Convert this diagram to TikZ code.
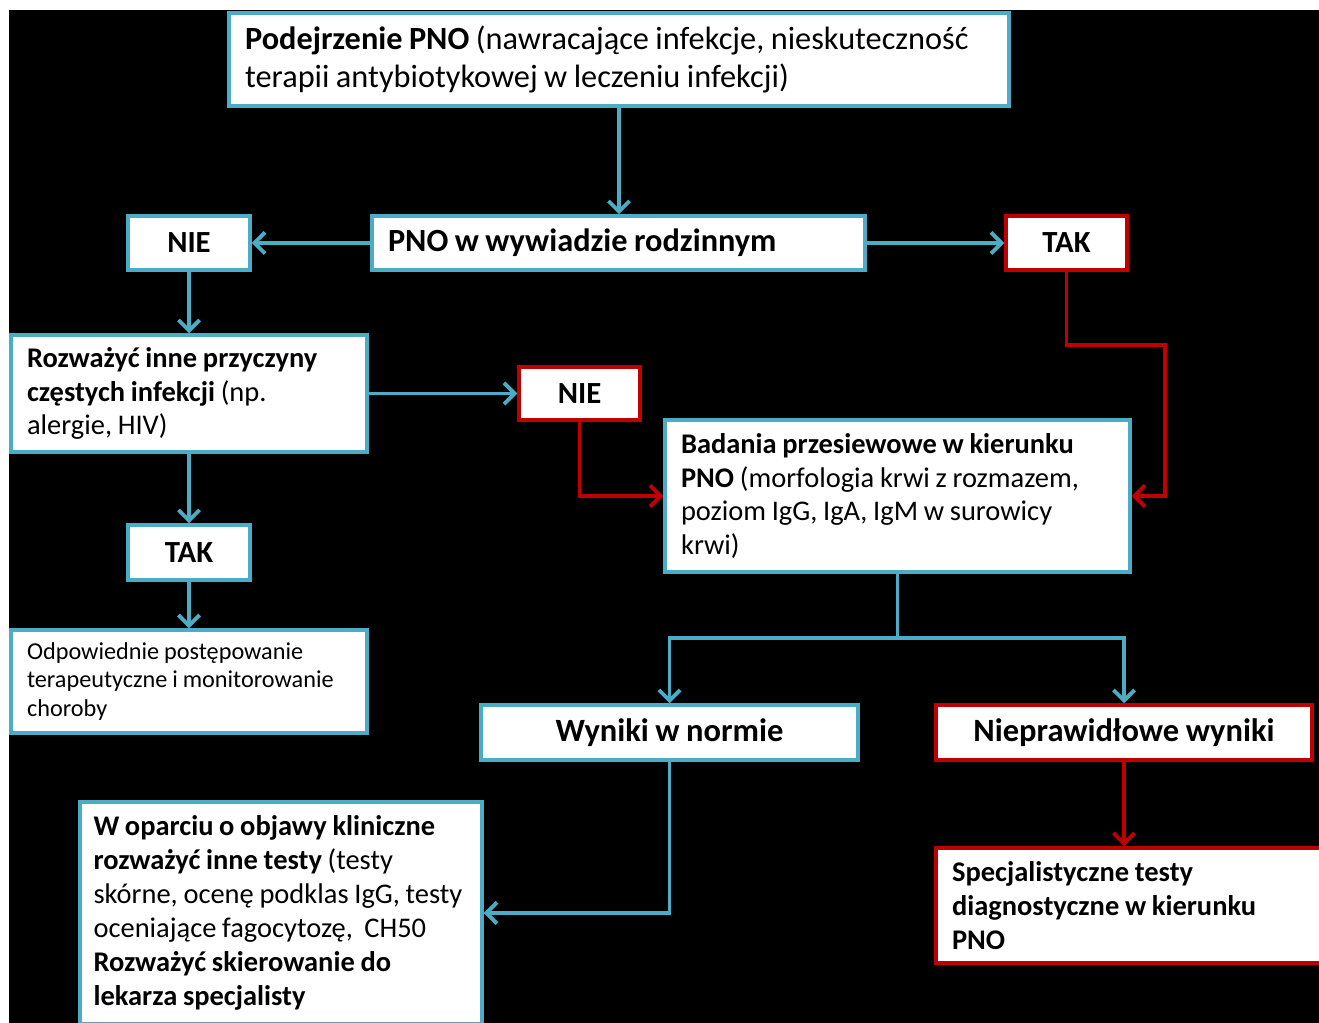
\documentclass[tikz,border=0pt]{standalone}
\usepackage{fontspec}
\setmainfont{Carlito}
\usepackage{tikz}
\usetikzlibrary{positioning,arrows.meta}

\definecolor{pnoblue}{HTML}{4BACC6}
\definecolor{pnored}{HTML}{C00000}

% font size with the tight word spacing of the slide
\newcommand{\pnosize}[2]{\fontsize{#1}{#2}\selectfont}
\newcommand{\pnospace}{\spaceskip=0.2em plus 0.08em minus 0.02em\relax}

\tikzset{
  box/.style = {draw=pnoblue, line width=2pt, fill=white, text=black, inner xsep=0.32cm, inner ysep=0pt, execute at begin node=\pnospace},
  redbox/.style = {box, draw=pnored},
  txt/.style = {align=left, font=\pnosize{16.2}{19.3}},
  lbl/.style = {align=center, font=\pnosize{17.5}{20}\bfseries},
  flow/.style = {draw=pnoblue, line width=2.2pt, -{Straight Barb[length=6pt,width=12pt,line width=2.2pt]}},
  redflow/.style = {flow, draw=pnored}
}

\begin{document}
\begin{tikzpicture}[x=0.02cm, y=-0.02cm]
            % Background
            \fill[white] (0,0) rectangle (1319,1023);
            \useasboundingbox (0,0) rectangle (1319,1023);
            \fill[black] (9,10) rectangle (1319,1023);
            % Nodes
            \node[box, txt, text width=14.96cm, minimum height=1.86cm, font=\pnosize{18.4}{21.5}] (suspect) at (619,59.5)
              {\textbf{Podejrzenie PNO} (nawracające infekcje, nieskuteczność\\ terapii antybiotykowej w leczeniu infekcji)};
            \node[box, txt, text width=9.22cm, minimum height=1.08cm, font=\pnosize{18.4}{20}\bfseries] (family) at (618.5,243)
              {PNO w wywiadzie rodzinnym};
            \node[box, lbl, minimum width=2.44cm, minimum height=1.08cm] (nie1) at (189,243) {NIE};
            \node[redbox, lbl, minimum width=2.42cm, minimum height=1.08cm] (tak1) at (1066.5,243) {TAK};
            \node[box, txt, text width=6.48cm, minimum height=2.34cm] (causes) at (189,393.5)
              {\textbf{Rozważyć inne przyczyny}\\ \textbf{częstych infekcji} (np.\\ alergie, HIV)};
            \node[redbox, lbl, minimum width=2.42cm, minimum height=1.06cm] (nie2) at (579.5,393.5) {NIE};
            \node[box, txt, text width=8.66cm, minimum height=3.04cm] (screening) at (897.5,496)
              {\textbf{Badania przesiewowe w kierunku}\\ \textbf{PNO} (morfologia krwi z rozmazem,\\ poziom IgG, IgA, IgM w surowicy\\ krwi)};
            \node[box, lbl, minimum width=2.44cm, minimum height=1.1cm] (tak2) at (189,552.5) {TAK};
            \node[box, txt, text width=6.48cm, minimum height=2.06cm, font=\pnosize{13.8}{16.4}] (therapy) at (189,681.5)
              {Odpowiednie postępowanie\\ terapeutyczne i monitorowanie\\ choroby};
            \node[box, lbl, minimum width=7.54cm, minimum height=1.1cm, font=\pnosize{18.5}{21}\bfseries] (normal) at (669.5,732.5) {Wyniki w normie};
            \node[redbox, lbl, minimum width=7.52cm, minimum height=1.1cm, font=\pnosize{18.5}{21}\bfseries] (abnormal) at (1124,732.5) {Nieprawidłowe wyniki};
            \node[box, txt, text width=7.5cm, inner xsep=0.27cm, minimum height=4.44cm] (others) at (281,913)
              {\textbf{W oparciu o objawy kliniczne}\\ \textbf{rozważyć inne testy} (testy\\ skórne, ocenę podklas IgG, testy\\ oceniające fagocytozę,~ CH50\\ \textbf{Rozważyć skierowanie do}\\ \textbf{lekarza specjalisty}};
            \node[redbox, txt, text width=7.24cm, minimum height=2.3cm] (special) at (1133,905.5)
              {\textbf{Specjalistyczne testy}\\ \textbf{diagnostyczne w kierunku}\\ \textbf{PNO}};
            \coordinate (bend) at (1165,345);
            \coordinate (split) at (897.5,638);
            % Edges
            \draw[flow] (suspect.south) -- (suspect.south |- family.north);
            \draw[flow] (family) -- (nie1);
            \draw[flow] (family) -- (tak1);
            \draw[flow] (nie1) -- (causes);
            \draw[flow] (causes) -- (nie2);
            \draw[redflow] (nie2.south) |- (screening.west);
            \draw[redflow] (tak1.south) |- (bend) |- (screening.east);
            \draw[flow] (causes) -- (tak2);
            \draw[flow] (tak2) -- (therapy);
            \draw[flow] (screening.south) -- (split) -| (normal.north);
            \draw[flow] (split) -| (abnormal.north);
            \draw[redflow] (abnormal.south) -- (abnormal.south |- special.north);
            \draw[flow] (normal.south) |- (others.east);
\end{tikzpicture}
\end{document}
